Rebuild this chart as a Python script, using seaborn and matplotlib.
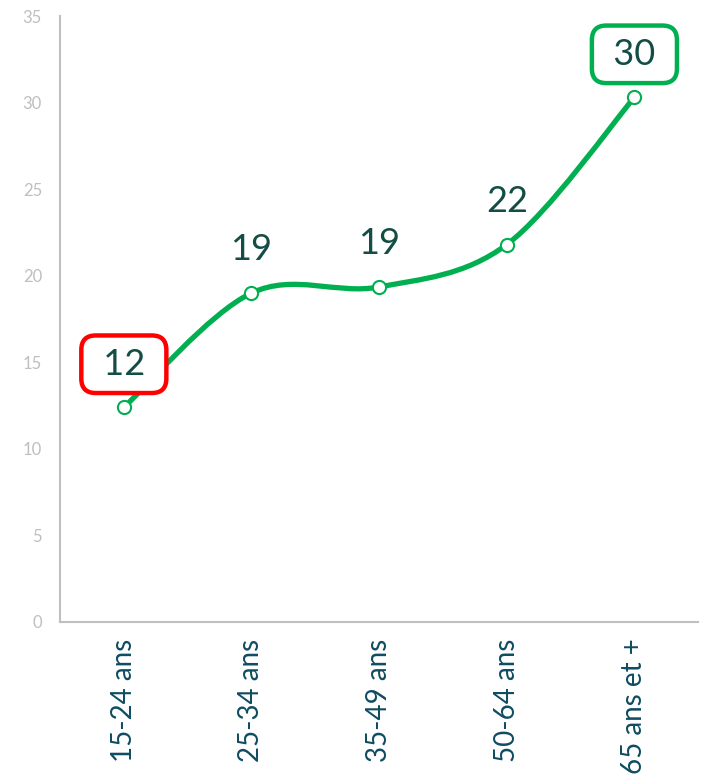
import matplotlib
matplotlib.use("Agg")
import matplotlib.pyplot as plt
import seaborn as sns
import numpy as np
import pandas as pd
from matplotlib.path import Path
from matplotlib.patches import PathPatch

categories = ["15-24 ans", "25-34 ans", "35-49 ans", "50-64 ans", "65 ans et +"]
values = [12.4, 19.0, 19.35, 21.8, 30.3]
highlight = {0: "#FF0000", 4: "#00B050"}

df = pd.DataFrame({"pos": range(len(categories)), "value": values, "cat": categories})

sns.set_style("white")
plt.rcParams["font.family"] = ["Lato", "DejaVu Sans"]

green = "#00B050"
axis_gray = "#BFBFBF"

fig = plt.figure(figsize=(7.06, 7.81), dpi=100)
ax = fig.add_axes([0.085, 0.2036, 0.904, 0.7759])

# smoothed line (Catmull-Rom as Bezier segments)
pts = df[["pos", "value"]].to_numpy(dtype=float)
ext = np.vstack([pts[0], pts, pts[-1]])
verts = [tuple(pts[0])]
codes = [Path.MOVETO]
for i in range(len(pts) - 1):
    p0, p1, p2, p3 = ext[i], ext[i + 1], ext[i + 2], ext[i + 3]
    c1 = p1 + (p2 - p0) / 6
    c2 = p2 - (p3 - p1) / 6
    verts += [tuple(c1), tuple(c2), tuple(p2)]
    codes += [Path.CURVE4] * 3
ax.add_patch(PathPatch(Path(verts, codes), facecolor="none", edgecolor=green,
                       lw=3.8, capstyle="round", joinstyle="round", zorder=2))

sns.scatterplot(data=df, x="pos", y="value", ax=ax, s=90, color="white",
                edgecolor=green, linewidth=1.5, zorder=3, legend=False)

for i, row in df.iterrows():
    bbox = None
    txt = f"{row['value']:.0f}"
    if i in highlight:
        txt = f" {txt} "
        bbox = dict(boxstyle="round,pad=0.34,rounding_size=0.4", fc="white",
                    ec=highlight[i], lw=3.2)
    ax.annotate(txt, (row["pos"], row["value"]), xytext=(0, 31),
                textcoords="offset points", ha="center", va="center",
                fontsize=26, color="#134D45", bbox=bbox, zorder=4)

ax.set_xlim(-0.5, len(categories) - 0.5)
ax.set_ylim(0, 35)
ax.set_yticks(range(0, 36, 5))
ax.set_xticks(range(len(categories)))
ax.set_xticklabels(categories, rotation=90, fontsize=20, color="#0F4C62")
ax.set_xticks(np.arange(-0.5, len(categories), 1), minor=True)
ax.tick_params(axis="x", which="major", length=0, pad=12)
ax.tick_params(axis="x", which="minor", length=8, width=1.5, color=axis_gray)
ax.tick_params(axis="y", length=7, width=1.5, color=axis_gray,
               labelcolor="#BFBFBF", labelsize=12, pad=6)
ax.set_xlabel("")
ax.set_ylabel("")
for side in ["top", "right"]:
    ax.spines[side].set_visible(False)
for side in ["left", "bottom"]:
    ax.spines[side].set_color(axis_gray)
    ax.spines[side].set_linewidth(1.5)

fig.savefig("out.png", dpi=100)
